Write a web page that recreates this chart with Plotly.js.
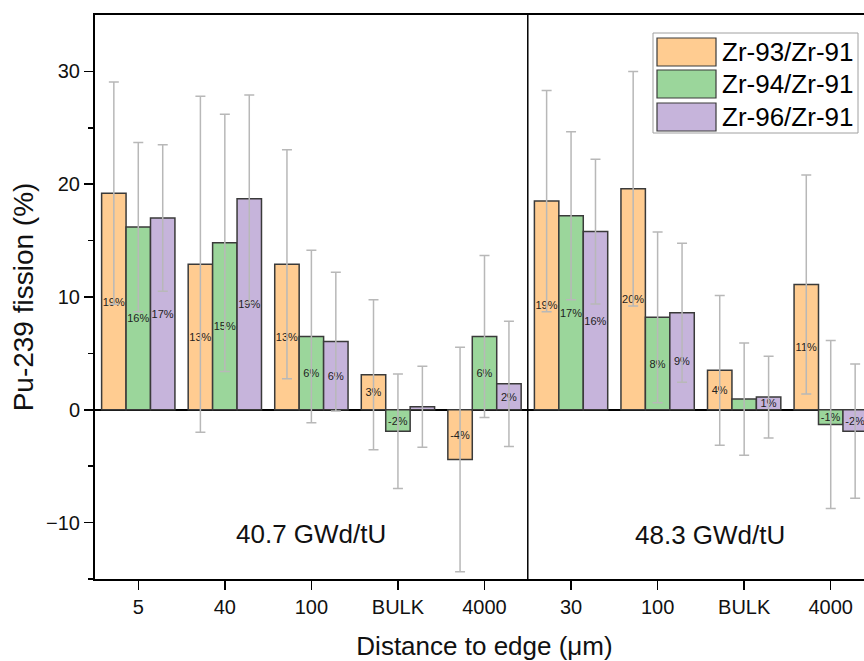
<!DOCTYPE html>
<html>
<head>
<meta charset="utf-8">
<script src="https://cdn.plot.ly/plotly-3.0.1.min.js"></script>
<style>
html, body { margin: 0; padding: 0; overflow: hidden; background: #fff; }
#chart { width: 890px; height: 661px; }
</style>
</head>
<body>
<div id="chart"></div>
<script>
// Categories (distance to edge, µm), two burnup groups
const categories = ["5", "40", "100", "BULK", "4000", "30", "100", "BULK", "4000"];
const seriesNames = ["Zr-93/Zr-91", "Zr-94/Zr-91", "Zr-96/Zr-91"];

// Pu-239 fission fraction (%) per ratio
const zr93 = [19.2, 12.9, 12.9, 3.1, -4.4, 18.5, 19.6, 3.5, 11.1];
const zr94 = [16.2, 14.8, 6.5, -1.9, 6.5, 17.2, 8.2, 0.95, -1.3];
const zr96 = [17.0, 18.7, 6.05, 0.28, 2.3, 15.8, 8.6, 1.13, -1.9];

// Uncertainties (±)
const zr93Err = [9.85, 14.9, 10.15, 6.65, 9.95, 9.8, 10.4, 6.64, 9.71];
const zr94Err = [7.5, 11.4, 7.64, 5.08, 7.18, 7.44, 7.57, 4.98, 7.44];
const zr96Err = [6.5, 9.2, 6.15, 3.59, 5.56, 6.41, 6.16, 3.62, 5.95];

// Bar labels as printed
const zr93Labels = ["19%", "13%", "13%", "3%", "-4%", "19%", "20%", "4%", "11%"];
const zr94Labels = ["16%", "15%", "6%", "-2%", "6%", "17%", "8%", "", "-1%"];
const zr96Labels = ["17%", "19%", "6%", "", "2%", "16%", "9%", "1%", "-2%"];

const groupLabels = ["40.7 GWd/tU", "48.3 GWd/tU"];

const colors = ["#FFCC91", "#9BD69B", "#C6B4DB"];
const FONT = "Arial, 'Liberation Sans', Helvetica, sans-serif";

const xPos = categories.map((_, i) => i);

function barTrace(name, y, err, labels, color) {
  return {
    type: "bar",
    name: name,
    x: xPos,
    y: y,
    text: labels,
    textposition: "inside",
    insidetextanchor: "middle",
    constraintext: "none",
    textangle: 0,
    textfont: { family: FONT, size: 11, color: "#222" },
    marker: { color: color, line: { color: "#3a3a3a", width: 1.5 } },
    error_y: { type: "data", array: err, visible: true, color: "#b8b8b8", thickness: 1.5, width: 5 },
    showlegend: false,
    hoverinfo: "x+y+name"
  };
}

const data = [
  barTrace(seriesNames[0], zr93, zr93Err, zr93Labels, colors[0]),
  barTrace(seriesNames[1], zr94, zr94Err, zr94Labels, colors[1]),
  barTrace(seriesNames[2], zr96, zr96Err, zr96Labels, colors[2])
];

// geometry of plot area (pixels)
const W = 890, H = 661;
const M = { l: 95, r: 16, t: 15, b: 82 };
const PW = W - M.l - M.r, PH = H - M.t - M.b;
const px = v => (v - M.l) / PW;
const py = v => (H - M.b - v) / PH;

// divider + custom legend
const shapes = [
  { type: "line", xref: "x", yref: "paper", x0: 4.5, x1: 4.5, y0: 0, y1: 1,
    line: { color: "#000", width: 1.5 } },
  { type: "rect", xref: "paper", yref: "paper", x0: px(653), x1: px(858), y0: py(133), y1: py(33),
    line: { color: "#a0a0a0", width: 1 }, fillcolor: "#fff", layer: "above" }
];
const annotations = [
  { xref: "x", yref: "y", x: 2, y: -11, text: groupLabels[0], showarrow: false,
    font: { family: FONT, size: 26, color: "#111" } },
  { xref: "x", yref: "y", x: 6.6, y: -11.1, text: groupLabels[1], showarrow: false,
    font: { family: FONT, size: 26, color: "#111" } }
];
const swTop = [38, 70, 103];
seriesNames.forEach((n, i) => {
  shapes.push({ type: "rect", xref: "paper", yref: "paper",
    x0: px(657), x1: px(716), y0: py(swTop[i] + 28), y1: py(swTop[i]),
    fillcolor: colors[i], line: { color: "#3a3a3a", width: 1.2 }, layer: "above" });
  annotations.push({ xref: "paper", yref: "paper", x: px(720), y: py(swTop[i] + 14),
    xanchor: "left", yanchor: "middle", text: n, showarrow: false,
    font: { family: FONT, size: 26, color: "#000" } });
});

const layout = {
  width: W, height: H,
  margin: M,
  paper_bgcolor: "#fff", plot_bgcolor: "#fff",
  barmode: "group", bargap: 0.153, bargroupgap: 0,
  font: { family: FONT, color: "#000" },
  showlegend: false,
  xaxis: {
    range: [-0.5, 8.5],
    tickmode: "array", tickvals: xPos, ticktext: categories,
    ticks: "outside", ticklen: 9, tickwidth: 1.5, tickcolor: "#000",
    showline: true, linecolor: "#000", linewidth: 2, mirror: true,
    showgrid: false, zeroline: false,
    tickfont: { family: FONT, size: 20, color: "#111" },
    title: { text: "Distance to edge (\u03bcm)", font: { family: FONT, size: 26, color: "#111" }, standoff: 21 }
  },
  yaxis: {
    range: [-15, 35],
    tickvals: [-10, 0, 10, 20, 30],
    ticks: "outside", ticklen: 9, tickwidth: 1.5, tickcolor: "#000",
    minor: { tickvals: [-15, -5, 5, 15, 25], ticks: "outside", ticklen: 5, tickwidth: 1.5, tickcolor: "#000" },
    showline: true, linecolor: "#000", linewidth: 2, mirror: true,
    showgrid: false,
    zeroline: true, zerolinecolor: "#000", zerolinewidth: 1.5,
    tickfont: { family: FONT, size: 20, color: "#111" },
    title: { text: "Pu-239 fission (%)", font: { family: FONT, size: 28, color: "#111" }, standoff: 4 }
  },
  shapes: shapes,
  annotations: annotations
};

Plotly.newPlot("chart", data, layout, { displayModeBar: false, staticPlot: true });
</script>
</body>
</html>
